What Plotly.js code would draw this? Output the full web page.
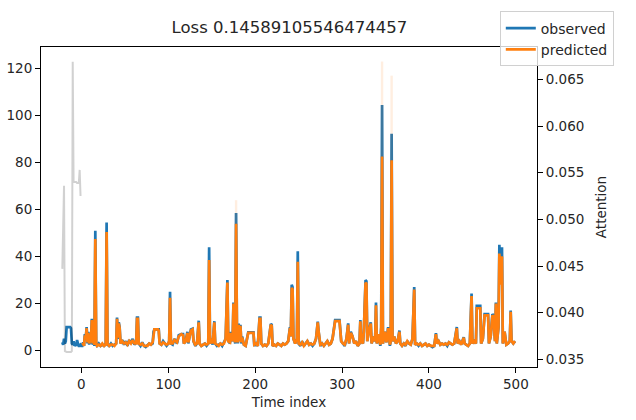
<!DOCTYPE html>
<html>
<head>
<meta charset="utf-8">
<script src="https://cdn.plot.ly/plotly-3.0.1.min.js"></script>
<style>html,body{margin:0;padding:0;background:#fff}#chart{width:636px;height:420px}</style>
</head>
<body>
<div id="chart"></div>
<script>
// Encoder (history) part: observed only
const encTime = [-22,-21,-20,-19,-18,-17,-16,-15,-14,-13,-12,-11,-10,-9,-8,-7,-6,-5,-4,-3,-2,-1,0];
const encObserved = [3.5,2.5,5,3,4,10,10,10,10,10,9.5,3,2.5,4,2,2.5,2,4.5,3,2,2,2.5,2];

// Attention on encoder steps
const attnTime = [-22,-21,-20,-19,-18,-17,-16,-15,-14,-13,-12,-11,-10,-9,-8,-7,-6,-5,-4,-3,-2,-1];
const attention = [0.0447,0.0486,0.0536,0.0359,0.0358,0.0358,0.0358,0.0358,0.0358,0.0358,0.0358,0.0359,0.0669,0.0540,0.0540,0.0540,0.0540,0.0539,0.0539,0.0539,0.0553,0.0525];

// Decoder (prediction) part
const decTime = [1,2,3,4,5,6,7,8,9,10,11,12,13,14,15,16,17,18,20,22,24,26,28,29,30,32,34,36,38,40,
41,42,43,44,45,47,49,51,53,55,57,59,61,63,64,65,66,68,70,72,74,76,78,80,82,83,84,88,89,90,
92,94,96,98,100,101,102,103,105,107,110,112,115,117,118,120,122,123,124,126,128,129,131,133,135,136,138,140,142,144,
146,147,148,150,151,153,154,156,158,160,162,164,166,168,169,171,172,174,175,176,177,178,179,180,
181,182,183,184,185,187,189,192,198,199,201,203,205,206,207,209,211,213,215,218,219,220,222,224,226,228,
230,232,234,236,238,240,241,242,243,244,246,248,249,250,252,254,256,258,260,262,264,266,268,270,272,273,275,277,279,281,
283,285,287,289,292,297,299,301,303,305,307,308,310,312,314,316,318,320,321,322,324,325,327,328,329,331,333,334,336,338,
339,340,342,344,345,346,347,349,351,353,355,356,357,358,360,362,364,366,367,369,371,373,375,377,379,381,383,384,386,388,
390,392,394,396,398,400,402,404,406,408,409,411,413,415,417,419,421,423,425,427,429,432,433,435,437,440,441,443,445,447,
449,450,452,454,455,459,460,462,464,468,469,471,473,474,476,477,478,480,481,482,483,484,485,487,489,491,493,494,495,497,499];
const decObserved = [2,3.5,2,7,5,10,3,8,2.5,6,3,13.5,2.5,5,2,51,2.5,2,3,2,2.5,2,3,54.5,2.5,2,3,2,2.5,3,
14,5,12,10,3,4.5,2.5,4,2,4.5,3,5,2.5,3.5,14,14,3,2,3.5,2,1.5,2.5,3,2.5,3,8,9,9,9,3,
2.5,4,3,2,3,4,25,3,2.5,5,3,6.5,7,7,3,4,8,3,5,9,9.3,4,2,3,12.7,3,2,2.5,3,2,
3,44,3,5,2.5,12.5,3,2,2.5,3,2,3.5,5,30,4,3,8,4,20.4,6,3,58.5,8,3,
11.5,4,11,3,6,2.5,2,7.8,7.8,2,3,2,14,14,3,2,2.5,2,3,11.3,11,2,2.5,2,3,2.5,
2,3,2.5,3,4,10,6,28,27,5,3,5,42.3,3,2,4,2,3,4,2.5,3,2,3,5,12.3,8,2,3,2,3,
4,2.5,3,5,13,13,4,3,2,5,11.6,3,8,6,3,4,2,3,13,4,3,8,30,29.5,4,9,12,3,6,4,
20.4,3,7,2,10,104.5,3,8,3.5,10,2,4,92.3,4,6,3,4,8.5,3,2,3,2,4,3,2.5,5,27,2.5,3,2,
3,2,2.5,3,2,2.5,2,1.5,2,7.4,3,4,2.5,3,2.5,3,2,3.5,3,2.5,3,10,3,4,2.5,5.7,3,2.5,2,3,
24.3,3,4,3,19,19,3,5,15.5,15.5,3,6,15.5,15,4,20.4,3,10,45,30,42,44,3,8,2.5,3,4,17,4,3,4];
const decPredicted = [2.5,3,2,6.5,5,9.5,3.5,7.5,3,5.5,3.5,13,3,4.5,2.5,47.5,3,2,2.5,2,3,2,2.5,50.5,3,2,2.5,2.5,2,3,
13.5,5.5,11.5,9.5,3,4,3,3.5,2.5,4,3,4.5,3,3,13.5,13.5,3,2.5,3,2,2,2,3,2.5,3.5,8,9,9,8.5,3,
2.5,3.5,3,2.5,3,4,22.5,3,3,4.5,3.5,6,7,6.5,3,4,7.5,3.5,5,8.5,9,4,2.5,3,12,3,2,2.5,3,2.5,
3,38.5,3,5,3,12,3,2.5,2,3,2.5,3,5,29,4,3.5,7.5,4,20,6,3.5,54,8,3.5,
11,4,10.5,3.5,5.5,2.5,2,7.5,7.5,2.5,3,2,13.5,13.5,3,2,2.5,2,3,11,10.5,2,2.5,2,3,2.5,
2,3,2.5,3,4,9.5,6,26.7,26,5,3,5,37.8,3,2.5,3.5,2,3,4,2.5,3,2.5,3,5,12,8,2.5,3,2,3,
4,2.5,3,5,12.5,12.5,4,3,2.5,5,11,3,7.5,6,3,4,2,3,12.5,4,3,8,28.8,28.5,4,8.5,11.5,3,6,4,
19.3,3,7,2.5,10,82.6,3,8,3.5,9.5,2.5,4,81,4,6,3,4,8,3,2,3,2.5,4,3,2.5,5,26,2.5,3,2.5,
3,2,2.5,3,2,2.5,2,2,2,7,3,4,2.5,3,2.5,3,2.5,3.5,3,2.5,3,9.5,3,4,2.5,5.5,3,2.5,2,3,
23.2,3,4,3,18,18,3,5,15,15,3,6,15,14.5,4,20,3,10,41.3,28,39,40,3,8,2.5,3,4,16.5,4,3,4];

// Upper prediction quantile where it visibly exceeds the prediction
const quantileTime = [178, 346, 357];
const quantileLow = [54, 82.6, 81];
const quantileHigh = [64, 123, 117];

const xTicks = [0,100,200,300,400,500];
const yTicks = [0,20,40,60,80,100,120];
const y2Ticks = [0.035,0.040,0.045,0.050,0.055,0.060,0.065];

const obsX = encTime.concat(decTime);
const obsY = encObserved.concat(decObserved);

const qx = [], qy = [];
quantileTime.forEach((t,i)=>{ qx.push(t,t,null); qy.push(quantileLow[i],quantileHigh[i],null); });

const FONT = "DejaVu Sans, Verdana, sans-serif";
const TXT = "#262626";

const traces = [
  {x: attnTime, y: attention, yaxis: 'y2', type:'scatter', mode:'lines',
   line:{color:'rgba(0,0,0,0.18)', width:2}, showlegend:false, hoverinfo:'skip'},
  {x: obsX, y: obsY, type:'scatter', mode:'lines', name:'observed',
   line:{color:'#1f77b4', width:2.7}},
  {x: qx, y: qy, type:'scatter', mode:'lines', showlegend:false,
   line:{color:'rgba(255,127,14,0.13)', width:2.4}, connectgaps:false, hoverinfo:'skip'},
  {x: decTime, y: decPredicted, type:'scatter', mode:'lines', name:'predicted',
   line:{color:'#ff7f0e', width:2.7}}
];

const axisCommon = {showgrid:false, zeroline:false, showline:true, linecolor:'#000', linewidth:1,
  ticks:'outside', ticklen:5, tickwidth:1, tickcolor:'#000',
  tickfont:{family:FONT, size:13.5, color:TXT}};

const layout = {
  width:636, height:420,
  margin:{l:41, r:99, t:42, b:53},
  paper_bgcolor:'#fff', plot_bgcolor:'#fff',
  font:{family:FONT, color:TXT},
  title:{text:'Loss 0.14589105546474457', font:{family:FONT, size:16.5, color:TXT},
         x:0.455, xanchor:'center', y:0.935, yanchor:'middle'},
  xaxis:Object.assign({}, axisCommon, {range:[-46.5,524.3], tickvals:xTicks, mirror:true,
         title:{text:'Time index', font:{family:FONT, size:13.5, color:TXT}, standoff:6}}),
  yaxis:Object.assign({}, axisCommon, {range:[-7.0,129.2], tickvals:yTicks, mirror:true}),
  yaxis2:Object.assign({}, axisCommon, {range:[0.03419,0.06847], tickvals:y2Ticks, tickformat:'.3f',
         overlaying:'y', side:'right',
         title:{text:'Attention', font:{family:FONT, size:13.5, color:TXT}, standoff:13}}),
  legend:{x:0.925, xanchor:'left', y:1.111, yanchor:'top', bgcolor:'rgba(255,255,255,0.8)',
          bordercolor:'#d0d0d0', borderwidth:1, font:{family:FONT, size:14, color:TXT},
          tracegroupgap:0, itemwidth:30},
  showlegend:true
};

Plotly.newPlot('chart', traces, layout, {staticPlot:true, displayModeBar:false});
</script>
</body>
</html>
